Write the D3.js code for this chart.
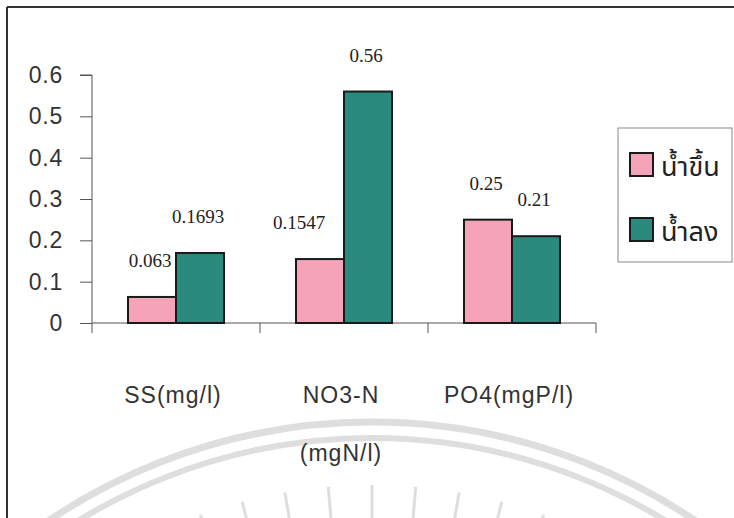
<!DOCTYPE html>
<html>
<head>
<meta charset="utf-8">
<script src="https://cdn.jsdelivr.net/npm/d3@7"></script>
<style>
  html, body { margin: 0; padding: 0; background: #ffffff; }
  svg { display: block; }
</style>
</head>
<body>
<svg id="chart" width="734" height="518"></svg>
<script>
const categories = ["SS(mg/l)", "NO3-N|(mgN/l)", "PO4(mgP/l)"];
const seriesNames = ["น้ำขึ้น", "น้ำลง"];
const floodValues = [0.063, 0.1547, 0.25];
const ebbValues = [0.1693, 0.56, 0.21];
const valueLabels = [["0.063", "0.1547", "0.25"], ["0.1693", "0.56", "0.21"]];
const yTicks = [0, 0.1, 0.2, 0.3, 0.4, 0.5, 0.6];
const yTickLabels = ["0", "0.1", "0.2", "0.3", "0.4", "0.5", "0.6"];
const colors = ["#f4a3b8", "#2b8a7e"];

const svg = d3.select("#chart");

// faint watermark arcs (scan background)
const wm = svg.append("g").attr("fill", "none").attr("stroke", "#dedede");
wm.append("circle").attr("cx", 372).attr("cy", 1000).attr("r", 578).attr("stroke-width", 7);
wm.append("circle").attr("cx", 372).attr("cy", 1000).attr("r", 562).attr("stroke-width", 6);
d3.range(-4, 5).forEach(i => {
  const a = i * 0.085;
  const r0 = 515, r1 = 470;
  wm.append("line")
    .attr("x1", 372 + r0 * Math.sin(a)).attr("y1", 1000 - r0 * Math.cos(a))
    .attr("x2", 372 + r1 * Math.sin(a)).attr("y2", 1000 - r1 * Math.cos(a))
    .attr("stroke-width", 3);
});

// frame (top and left edges of scanned frame)
svg.append("line").attr("x1", 7).attr("x2", 734).attr("y1", 7).attr("y2", 7)
  .attr("stroke", "#333").attr("stroke-width", 2);
svg.append("line").attr("x1", 7).attr("x2", 7).attr("y1", 7).attr("y2", 518)
  .attr("stroke", "#333").attr("stroke-width", 2);

const x0 = d3.scaleBand().domain(categories).range([92, 596]).paddingInner(0).paddingOuter(0);
const bandInner = 96 / 168;
const x1 = d3.scaleBand().domain(seriesNames).range([0, x0.bandwidth() * bandInner]);
const groupOffset = (x0.bandwidth() - x0.bandwidth() * bandInner) / 2;
const y = d3.scaleLinear().domain([0, 0.6]).range([323, 75]);

// y axis
const yAxis = d3.axisLeft(y).tickValues(yTicks).tickFormat((d, i) => yTickLabels[i]).tickSize(12).tickPadding(17);
const gy = svg.append("g").attr("transform", "translate(92,0)").call(yAxis);
gy.select(".domain").attr("stroke", "#555").attr("d", "M-12,75H0V323");
gy.selectAll(".tick line").attr("stroke", "#555");
gy.selectAll(".tick text").attr("font-family", "Liberation Sans, Arial, sans-serif")
  .attr("font-size", 23).attr("letter-spacing", 0.8).attr("fill", "#333");

// x axis
const xAxis = d3.axisBottom(x0).tickSize(0).tickFormat("");
const gx = svg.append("g").attr("transform", "translate(0,323)").call(xAxis);
gx.select(".domain").attr("stroke", "#555").attr("d", "M92,0H596");
const boundaries = categories.map(c => x0(c)).concat([x0.range()[1]]);
gx.selectAll(".bound").data(boundaries).enter().append("line")
  .attr("x1", d => d).attr("x2", d => d).attr("y1", 0).attr("y2", 10).attr("stroke", "#555");

// category labels
categories.forEach(c => {
  const lines = c.split("|");
  const cx = x0(c) + x0.bandwidth() / 2 - 3;
  lines.forEach((ln, j) => {
    svg.append("text").attr("x", cx).attr("y", 403 + j * 58)
      .attr("text-anchor", "middle")
      .attr("font-family", "Liberation Sans, Arial, sans-serif")
      .attr("font-size", 23).attr("letter-spacing", 1).attr("fill", "#333").text(ln);
  });
});

// bars
const seriesValues = [floodValues, ebbValues];
seriesValues.forEach((vals, s) => {
  const g = svg.append("g");
  g.selectAll("rect").data(vals).enter().append("rect")
    .attr("x", (d, i) => x0(categories[i]) + groupOffset + x1(seriesNames[s]))
    .attr("y", d => y(d))
    .attr("width", x1.bandwidth())
    .attr("height", d => y(0) - y(d))
    .attr("fill", colors[s])
    .attr("stroke", "#1a1a1a").attr("stroke-width", 2);
  g.selectAll("text").data(vals).enter().append("text")
    .attr("x", (d, i) => {
      const cx = x0(categories[i]) + groupOffset + x1(seriesNames[s]) + x1.bandwidth() / 2 - 2;
      // label of a short bar next to a much taller neighbour is pushed left (as in the original)
      const other = seriesValues[1 - s][i];
      return (s === 0 && other - d > 0.3) ? cx - 19 : cx;
    })
    .attr("y", d => y(d) - 30)
    .attr("text-anchor", "middle")
    .attr("font-family", "Liberation Serif, Times New Roman, serif")
    .attr("font-size", 19).attr("fill", "#222")
    .text((d, i) => valueLabels[s][i]);
});

// legend
const lg = svg.append("g");
lg.append("rect").attr("x", 618).attr("y", 128).attr("width", 114).attr("height", 134)
  .attr("fill", "#fff").attr("stroke", "#888").attr("stroke-width", 1);
seriesNames.forEach((n, i) => {
  lg.append("rect").attr("x", 630).attr("y", 153 + i * 65).attr("width", 23).attr("height", 23)
    .attr("fill", colors[i]).attr("stroke", "#1a1a1a").attr("stroke-width", 2);
  lg.append("text").attr("x", 661).attr("y", 176 + i * 65)
    .attr("font-family", "Noto Sans Thai, Loma, Garuda, Tlwg Typo, sans-serif")
    .attr("font-size", 27).attr("fill", "#222").text(n);
});
</script>
</body>
</html>
